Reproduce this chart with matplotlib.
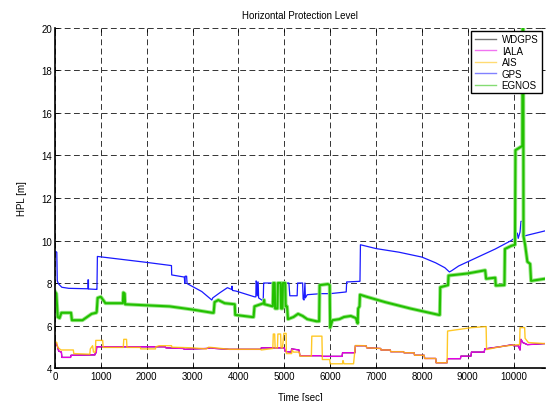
import matplotlib
matplotlib.use("Agg")
import matplotlib.pyplot as plt

plt.rcParams["font.family"] = ["Liberation Sans", "DejaVu Sans"]
plt.rcParams["font.size"] = 7

# GPS horizontal protection level (time [s], HPL [m])
gps_t = [0, 40, 50, 80, 150, 300, 700, 720, 720, 730, 730, 900, 915, 925, 1500, 2000,
         2540, 2545, 2820, 2830, 2840, 2870, 2880, 2900, 3200, 3420, 3440, 3600, 3760,
         3850, 3860, 3870, 3950, 4350, 4380, 4385, 4400, 4410, 4430, 4440, 4510, 4540,
         4550, 5100, 5120, 5280, 5290, 5400, 5410, 5430, 5450, 5460, 5500, 5800, 6000,
         6350, 6360, 6650, 6660, 7000, 7500, 8000, 8300, 8500, 8600, 8650, 8800, 9200,
         9600, 9950, 10040, 10050, 10060, 10080, 10100, 10140, 10160, 10200, 10220,
         10300, 10680]
gps_v = [9.5, 9.45, 8.1, 7.95, 7.8, 7.75, 7.73, 7.73, 8.15, 8.15, 7.72, 7.7, 7.7, 9.25,
         9.1, 8.97, 8.82, 8.38, 8.28, 7.98, 8.32, 8.32, 7.98, 7.95, 7.6, 7.2, 7.3, 7.55,
         7.78, 7.7, 7.85, 7.65, 7.62, 7.35, 7.35, 8.1, 8.05, 7.4, 8.05, 7.3, 7.2, 7.15,
         8.0, 8.0, 7.4, 7.4, 8.0, 8.0, 7.25, 7.2, 8.0, 7.3, 7.45, 7.5, 7.5, 7.58, 8.05,
         8.08, 9.8, 9.62, 9.45, 9.22, 8.95, 8.72, 8.52, 8.58, 8.8, 9.2, 9.6, 10.0, 10.15,
         9.8, 10.3, 10.35, 10.1, 10.4, 10.9, 10.9, 10.2, 10.25, 10.45]

# EGNOS horizontal protection level
egnos_t = [0, 30, 60, 100, 140, 350, 370, 600, 700, 800, 900, 910, 930, 1000, 1100,
           1480, 1490, 1520, 1530, 2000, 2500, 3000, 3430, 3460, 3480, 3560, 3700, 3920,
           3930, 4300, 4330, 4350, 4550, 4560, 4570, 4750, 4760, 4790, 4800, 4850, 4860,
           4920, 4930, 4960, 4970, 5020, 5030, 5060, 5080, 5200, 5300, 5400, 5500, 5700,
           5760, 5770, 5950, 5990, 6000, 6050, 6200, 6300, 6450, 6560, 6600, 6610, 6640,
           6650, 6800, 7200, 7750, 8370, 8390, 8400, 8570, 8580, 9000, 9380, 9400, 9600,
           9610, 9800, 9810, 9950, 10030, 10040, 10190, 10195, 10210, 10215, 10250,
           10300, 10360, 10380, 10680]
egnos_v = [7.6, 7.5, 6.4, 6.35, 6.6, 6.6, 6.25, 6.25, 6.4, 6.55, 6.6, 6.65, 7.3, 7.35,
           7.05, 7.05, 7.55, 7.5, 7.0, 6.95, 6.9, 6.75, 6.6, 6.6, 7.1, 7.2, 7.05, 7.0,
           6.5, 6.4, 6.4, 6.9, 7.05, 7.2, 7.0, 6.9, 8.0, 8.0, 6.8, 6.8, 8.0, 8.0, 6.8,
           6.8, 8.0, 8.0, 6.9, 6.9, 6.3, 6.4, 6.55, 6.45, 6.3, 6.2, 6.2, 7.9, 7.95, 7.9,
           5.9, 6.25, 6.3, 6.4, 6.45, 6.35, 6.1, 6.8, 6.9, 7.45, 7.35, 7.1, 6.8, 6.5, 6.5,
           7.8, 7.9, 8.35, 8.45, 8.6, 8.2, 8.25, 7.88, 7.9, 9.6, 9.75, 9.8, 14.25, 14.45,
           20.0, 20.0, 10.2, 9.8, 9.0, 8.9, 8.1, 8.2]

# IALA beacon horizontal protection level
iala_t = [0, 50, 80, 140, 150, 340, 350, 870, 880, 900, 910, 2400, 2420, 2800, 2820,
          3000, 3300, 3400, 3500, 3800, 4480, 4500, 4750, 5000, 5020, 5150, 5160, 5320,
          5340, 5800, 5820, 6260, 6270, 6540, 6550, 6780, 6800, 7100, 7110, 7310, 7320,
          7600, 7610, 7830, 7840, 8050, 8060, 8300, 8310, 8550, 8560, 8840, 8850, 9070,
          9080, 9360, 9370, 9700, 9980, 10000, 10100, 10140, 10160, 10200, 10300, 10680]
iala_v = [5.2, 5.05, 4.8, 4.75, 4.5, 4.5, 4.6, 4.62, 4.7, 4.72, 5.0, 5.0, 4.95, 4.92,
          4.88, 4.9, 4.92, 4.95, 4.92, 4.88, 4.88, 4.95, 4.95, 4.95, 4.78, 4.75, 4.9,
          4.85, 4.58, 4.58, 4.55, 4.55, 4.72, 4.72, 5.05, 5.05, 4.95, 4.92, 4.85, 4.85,
          4.77, 4.77, 4.72, 4.72, 4.6, 4.6, 4.45, 4.45, 4.25, 4.25, 4.44, 4.44, 4.56,
          4.56, 4.75, 4.75, 4.9, 5.0, 5.1, 5.05, 5.05, 4.85, 5.35, 5.2, 5.1, 5.15]

# AIS horizontal protection level
ais_t = [0, 40, 60, 130, 400, 410, 760, 770, 820, 840, 880, 890, 1040, 1050, 1490, 1500,
         1560, 1570, 1860, 1870, 2190, 2200, 2270, 2540, 2550, 3000, 3300, 3350, 3500,
         3800, 4480, 4500, 4750, 4760, 4790, 4800, 4850, 4860, 4920, 4930, 4960, 4990,
         5040, 5045, 5160, 5170, 5200, 5330, 5340, 5590, 5600, 5820, 5830, 5990, 6000,
         6270, 6280, 6300, 6510, 6550, 6780, 6800, 7100, 7110, 7310, 7320, 7600, 7610,
         7830, 7840, 8050, 8060, 8300, 8310, 8550, 8560, 9080, 9400, 9410, 9700, 9980,
         10130, 10140, 10240, 10250, 10320, 10680]
ais_v = [5.25, 5.2, 4.97, 4.85, 4.85, 4.68, 4.65, 4.9, 5.05, 4.75, 4.75, 5.3, 5.3, 4.97,
         4.97, 5.35, 5.35, 4.97, 4.97, 4.9, 4.9, 5.0, 5.05, 5.05, 4.98, 4.95, 4.9, 4.98,
         4.95, 4.88, 4.88, 4.85, 4.92, 5.6, 5.6, 4.95, 4.95, 5.6, 5.6, 4.95, 4.95, 5.63,
         5.63, 4.68, 4.68, 4.85, 4.75, 4.75, 4.56, 4.56, 5.5, 5.5, 4.4, 4.4, 4.2, 4.2,
         4.35, 4.2, 4.2, 5.06, 5.05, 4.95, 4.92, 4.85, 4.85, 4.77, 4.77, 4.72, 4.72, 4.6,
         4.6, 4.45, 4.45, 4.25, 4.25, 5.74, 5.9, 5.95, 4.87, 5.0, 5.08, 5.1, 5.9, 5.9,
         5.4, 5.2, 5.15]

# WDGPS follows the beacon solution and sits underneath it
wdgps_t = iala_t
wdgps_v = iala_v

fig = plt.figure(figsize=(5.47, 4.02), dpi=100)
ax = fig.add_axes([0.1005, 0.082, 0.8955, 0.846])

ax.plot(wdgps_t, wdgps_v, color="k", lw=0.8, label="WDGPS")
ax.plot(iala_t, iala_v, color="#e600e6", lw=1.0, label="IALA")
ax.plot(ais_t, ais_v, color="#ffbf00", lw=1.0, alpha=0.85, label="AIS")
ax.plot(gps_t, gps_v, color="#1a1aff", lw=0.9, label="GPS")
# noisy EGNOS trace drawn as a light band with a darker core
ax.plot(egnos_t, egnos_v, color="#9be68a", lw=2.8)
ax.plot(egnos_t, egnos_v, color="#22c000", lw=1.5, label="EGNOS")

ax.set_xlim(0, 10680)
ax.set_ylim(4, 20)
ax.set_xticks(range(0, 10001, 1000))
ax.set_yticks(range(4, 21, 2))
ax.tick_params(direction="in", length=3, width=0.6, pad=2, labelsize=7,
               top=True, right=True)
ax.grid(True, color="#333333", lw=0.7, linestyle=(0, (6, 3.5)))

for side in ["top", "right"]:
    ax.spines[side].set_visible(False)
for side in ["left", "bottom"]:
    ax.spines[side].set_linewidth(1.2)

ax.set_title("Horizontal Protection Level", fontsize=7, pad=7)
ax.set_xlabel("Time [sec]", fontsize=7, labelpad=8)
ax.set_ylabel("HPL [m]", fontsize=7, labelpad=10)

leg = ax.legend(loc="upper right", fontsize=7, frameon=True, fancybox=False,
                handlelength=2.2, handletextpad=0.6, borderpad=0.35,
                labelspacing=0.15, borderaxespad=0.3, framealpha=1)
leg.get_frame().set_edgecolor("k")
leg.get_frame().set_linewidth(1.0)
for h in leg.get_lines():
    h.set_linewidth(1.0)
    h.set_alpha(0.55)

fig.savefig("out.png", dpi=100)
